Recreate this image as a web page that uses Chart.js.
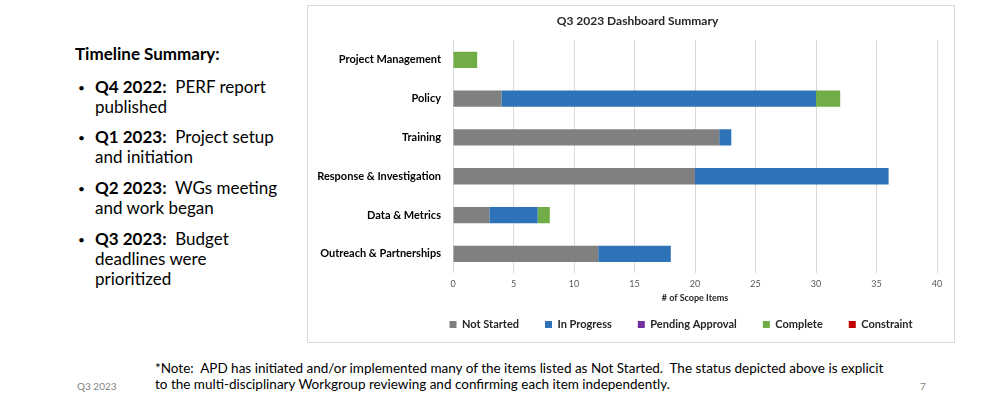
<!DOCTYPE html>
<html>
<head>
<meta charset="utf-8">
<script src="https://cdn.jsdelivr.net/npm/chart.js@4.4.1/dist/chart.umd.min.js"></script>
<style>
  body { margin: 0; width: 1000px; height: 399px; background: #fff; overflow: hidden; position: relative; font-family: Lato, "Liberation Sans", sans-serif; color: #000; }
  .abs { position: absolute; white-space: nowrap; }
  .head { left: 75px; top: 43px; font-size: 17px; font-weight: bold; }
  .item { left: 78px; font-size: 17px; line-height: 20px; }
  .item .dot { position: absolute; left: 0; top: 1px; font-size: 12px; }
  .item .txt { position: absolute; left: 17px; top: 0; }
  .note { left: 155px; font-size: 13.5px; }
  .foot { font-size: 10px; color: #7f7f7f; top: 380px; }
  #box { position: absolute; left: 307px; top: 5px; width: 648px; height: 338px; border: 1px solid #d9d9d9; box-sizing: border-box; }
  #chart { display: block; }
</style>
</head>
<body>
<div class="abs head">Timeline Summary:</div>
<div class="abs item" style="top:77px"><span class="dot">•</span><span class="txt"><b>Q4 2022:</b>&nbsp; PERF report<br>published</span></div>
<div class="abs item" style="top:127px"><span class="dot">•</span><span class="txt"><b>Q1 2023:</b>&nbsp; Project setup<br>and initiation</span></div>
<div class="abs item" style="top:178px"><span class="dot">•</span><span class="txt"><b>Q2 2023:</b>&nbsp; WGs meeting<br>and work began</span></div>
<div class="abs item" style="top:229px"><span class="dot">•</span><span class="txt"><b>Q3 2023:</b>&nbsp; Budget<br>deadlines were<br>prioritized</span></div>

<div id="box"><canvas id="chart" width="646" height="336"></canvas></div>

<div class="abs note" style="top:360px">*Note:&nbsp; APD has initiated and/or implemented many of the items listed as Not Started.&nbsp; The status depicted above is explicit</div>
<div class="abs note" style="top:376px">to the multi-disciplinary Workgroup reviewing and confirming each item independently.</div>
<div class="abs foot" style="left:77px">Q3 2023</div>
<div class="abs foot" style="left:920px">7</div>

<script>
const categories = ["Project Management", "Policy", "Training", "Response & Investigation", "Data & Metrics", "Outreach & Partnerships"];
const notStarted = [0, 4, 22, 20, 3, 12];
const inProgress = [0, 26, 1, 16, 4, 6];
const pendingApproval = [0, 0, 0, 0, 0, 0];
const complete = [2, 2, 0, 0, 1, 0];
const constraint = [0, 0, 0, 0, 0, 0];
const xMin = 0, xMax = 40, xStep = 5;

const chartFont = "Lato, 'Liberation Sans', sans-serif";

function series(label, values, color) {
  return { label: label, data: values, backgroundColor: color, borderWidth: 0, barPercentage: 0.42, categoryPercentage: 1 };
}

// legend and title sit a bit off-centre in the original, and the legend has less room below it
const layoutTweaks = {
  id: "layoutTweaks",
  beforeLayout(chart) {
    const legend = chart.legend;
    if (legend && !legend._fixedFit) {
      const fit = legend.fit;
      legend.fit = function () {
        this.maxWidth = Math.max(this.maxWidth, 640); // keep all five entries on one row
        fit.call(this);
        this.height = 43;
      };
      legend._fixedFit = true;
    }
  },
  afterLayout(chart) {
    const lg = chart.legend;
    const mid = (lg.left + lg.right) / 2 - 14;
    lg.left = mid - 320;
    lg.right = mid + 320;
    lg.top -= 6;
    lg.bottom -= 6;
    chart.titleBlock.left += 15;
    chart.titleBlock.right += 15;
  }
};

new Chart(document.getElementById("chart"), {
  type: "bar",
  data: {
    labels: categories,
    datasets: [
      series("Not Started", notStarted, "#808080"),
      series("In Progress", inProgress, "#2e73b8"),
      series("Pending Approval", pendingApproval, "#7030a0"),
      series("Complete", complete, "#70ad47"),
      series("Constraint", constraint, "#c00000")
    ]
  },
  plugins: [layoutTweaks],
  options: {
    indexAxis: "y",
    responsive: false,
    animation: false,
    layout: { padding: { left: 0, right: 17, top: 0, bottom: 0 } },
    plugins: {
      title: {
        display: true,
        text: "Q3 2023 Dashboard Summary",
        color: "#262626",
        font: { family: chartFont, size: 12, weight: "bold" },
        padding: { top: 8, bottom: 12 }
      },
      legend: {
        position: "bottom",
        fullSize: false,
        labels: {
          boxWidth: 7, boxHeight: 7, padding: 26,
          color: "#262626",
          font: { family: chartFont, size: 11, weight: "bold" }
        }
      },
      tooltip: { enabled: false }
    },
    scales: {
      x: {
        stacked: true,
        min: xMin, max: xMax,
        ticks: { stepSize: xStep, color: "#595959", padding: 5, font: { family: chartFont, size: 9 } },
        grid: { color: "#d9d9d9", drawTicks: false },
        border: { display: false },
        title: { display: true, text: "# of Scope Items", color: "#262626", padding: { top: 0, bottom: -4.6 }, font: { family: chartFont, size: 9, weight: "bold" } },
        afterFit: function (scale) { scale.height = 25.75; }
      },
      y: {
        stacked: true,
        grid: { display: false },
        border: { display: false },
        ticks: { color: "#000", padding: 4, font: { family: chartFont, size: 11, weight: "bold" } },
        afterFit: function (scale) { scale.width = 145; }
      }
    }
  }
});
</script>
</body>
</html>
